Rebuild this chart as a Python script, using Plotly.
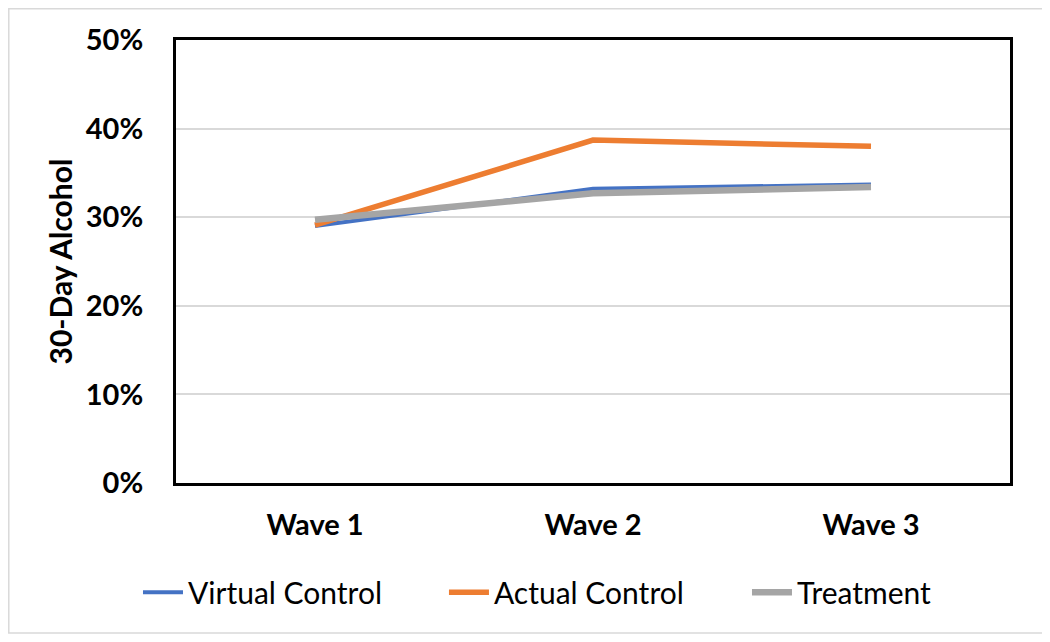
import plotly.graph_objects as go

waves = ["Wave 1", "Wave 2", "Wave 3"]
virtual_control = [0.290, 0.332, 0.337]
actual_control = [0.291, 0.387, 0.380]
treatment = [0.297, 0.327, 0.334]

series = [
    ("Virtual Control", virtual_control, "#4472C4", 4, "legend"),
    ("Actual Control", actual_control, "#ED7D31", 5.5, "legend2"),
    ("Treatment", treatment, "#A5A5A5", 6.5, "legend3"),
]

FONT = "Lato"
# the page body adds ~8px of offset, so margins are trimmed to compensate
fig = go.Figure()
for name, vals, color, width, leg in series:
    fig.add_trace(
        go.Scatter(
            x=waves,
            y=vals,
            mode="lines",
            name=name,
            legend=leg,
            line=dict(color=color, width=width),
        )
    )


def legend_box(x):
    # one legend per series so the entries can be spread like the original
    return dict(
        orientation="h",
        xref="container",
        yref="container",
        x=x,
        xanchor="left",
        y=0.09,
        yanchor="middle",
        bgcolor="rgba(0,0,0,0)",
        font=dict(family=FONT, size=30, color="black"),
        itemwidth=40,
    )


fig.update_layout(
    width=1050,
    height=642,
    paper_bgcolor="white",
    plot_bgcolor="white",
    margin=dict(l=168, r=48, t=32, b=167, autoexpand=False),
    font=dict(family=FONT, color="black"),
    showlegend=True,
    legend=legend_box(0.1238),
    legend2=legend_box(0.4152),
    legend3=legend_box(0.7038),
    xaxis=dict(
        range=[-0.5, 2.5],
        showgrid=False,
        showline=True,
        mirror=True,
        linecolor="black",
        linewidth=3,
        ticks="",
        tickfont=dict(family=FONT, size=29, weight="bold"),
        ticklabelstandoff=14,
    ),
    yaxis=dict(
        range=[0, 0.5],
        dtick=0.1,
        tickformat=".0%",
        showgrid=True,
        gridcolor="#d9d9d9",
        gridwidth=1.5,
        zeroline=False,
        showline=True,
        mirror=True,
        linecolor="black",
        linewidth=3,
        ticks="",
        tickfont=dict(family=FONT, size=29, weight="bold"),
        ticklabelstandoff=24,
        title=dict(
            text="30-Day Alcohol",
            font=dict(family=FONT, size=30, weight="bold"),
            standoff=5,
        ),
    ),
    shapes=[
        dict(
            type="rect",
            xref="paper",
            yref="paper",
            x0=-0.2005,
            x1=1.0396,
            y0=-0.3386,
            y1=1.0706,
            line=dict(color="#d9d9d9", width=1.5),
            layer="below",
        )
    ],
)

fig.write_html("out.html")
